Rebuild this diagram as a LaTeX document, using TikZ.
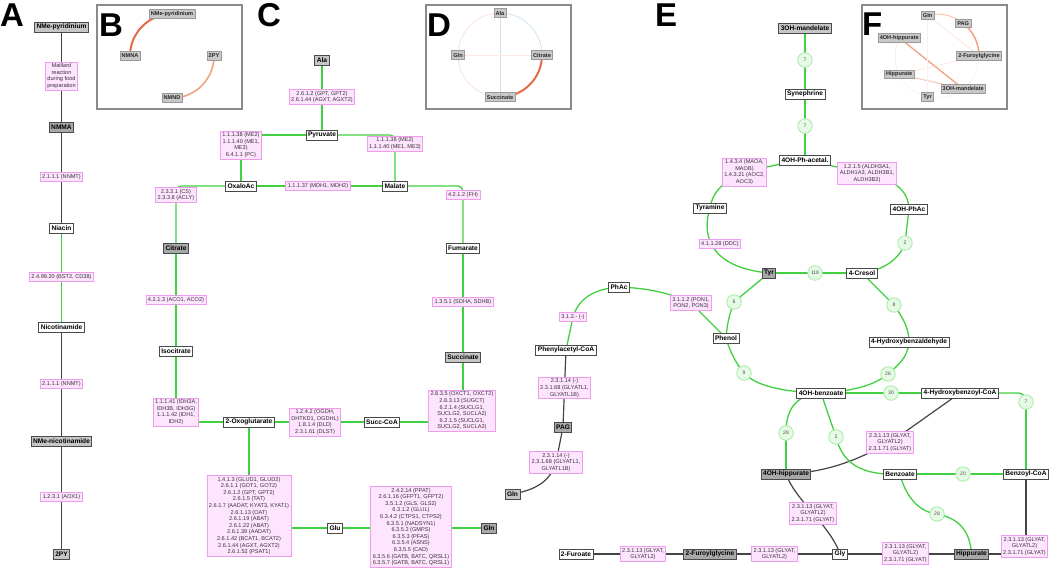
\documentclass[tikz,border=0pt]{standalone}
\usepackage{fontspec}
\setmainfont{Liberation Sans}
\usetikzlibrary{backgrounds}
\definecolor{lgreen}{HTML}{40D040}
\definecolor{dgrey}{HTML}{444444}
\definecolor{enzfill}{HTML}{FFE4FF}
\definecolor{enzdraw}{HTML}{EE9CEE}
\definecolor{metdraw}{HTML}{4A4A4A}
\definecolor{greyA}{HTML}{C6C6C6}
\definecolor{greyB}{HTML}{A8A8A8}
\definecolor{cfill}{HTML}{E6FBE6}
\definecolor{cdraw}{HTML}{A6EAA6}
\definecolor{boxgrey}{HTML}{8A8A8A}
\definecolor{ingrey}{HTML}{C8C8C8}
\definecolor{ingreyd}{HTML}{9A9A9A}
\definecolor{hot}{HTML}{E46A4A}
\definecolor{warm}{HTML}{F0A282}
\definecolor{pale}{HTML}{F6C6B0}
\definecolor{faint}{HTML}{FBE2D6}
\definecolor{lblue}{HTML}{CCE2F2}
\begin{document}
\begin{tikzpicture}[x=1pt,y=-1pt,
 met/.style={draw=metdraw, line width=0.9pt, fill=white, font=\fontsize{6.6}{7.5}\selectfont\bfseries, inner xsep=2pt, inner ysep=1.5pt, minimum height=10pt},
 metA/.style={met, fill=greyA},
 metB/.style={met, fill=greyB},
 enz/.style={draw=enzdraw, fill=enzfill, line width=0.8pt, font=\fontsize{5.6}{6.6}\selectfont, text=black!80, align=center, inner xsep=2pt, inner ysep=1.5pt},
 cnum/.style={circle, draw=cdraw, fill=cfill, line width=0.8pt, minimum size=14.5pt, inner sep=0pt, font=\fontsize{5}{6}\selectfont, text=black!70},
 gl/.style={draw=lgreen, line width=1.3pt},
 dl/.style={draw=dgrey, line width=1.2pt},
 inset/.style={draw=boxgrey, line width=1.3pt},
 ins/.style={fill=ingrey, draw=ingreyd, line width=0.6pt, font=\fontsize{5.6}{6}\selectfont\bfseries, inner xsep=1.8pt, inner ysep=1.2pt, minimum height=8.5pt, text=black!85},
 plabel/.style={font=\fontsize{33}{33}\selectfont\bfseries, inner sep=0pt, anchor=base west},
]
\useasboundingbox (0,0) rectangle (1050,568);

% inset frames
\draw[inset] (97,5) rectangle (242,109);
\draw[inset] (426,5) rectangle (571,109);
\draw[inset] (862,5) rectangle (1007,109);

% panel letters
\node[plabel] (LA) at (0,26) {A};
\node[plabel] (LB) at (99,36) {B};
\node[plabel] (LC) at (257,26) {C};
\node[plabel] (LD) at (427,36) {D};
\node[plabel] (LE) at (655,26) {E};
\node[plabel] (LF) at (862,35) {F};

% ---------- Panel A ----------
\node[metA] (a1) at (61.5,27) {NMe-pyridinium};
\node[enz] (a2) at (61.5,76) {Maillard\\reaction\\during food\\preparation};
\node[metB] (a3) at (61.5,127) {NMMA};
\node[enz] (a4) at (61.5,177) {2.1.1.1 (NNMT)};
\node[met] (a5) at (61.5,228) {Niacin};
\node[enz] (a6) at (61.5,277) {2.4.99.20 (BST2, CD38)};
\node[met] (a7) at (61.5,327) {Nicotinamide};
\node[enz] (a8) at (61.5,384) {2.1.1.1 (NNMT)};
\node[metA] (a9) at (61.5,441) {NMe-nicotinamide};
\node[enz] (a10) at (61.5,497) {1.2.3.1 (AOX1)};
\node[metA] (a11) at (61.5,554) {2PY};

% ---------- Panel B ----------
\node[ins] (Bpyr) at (172,14) {NMe-pyridinium};
\node[ins] (Bnmna) at (130,56) {NMNA};
\node[ins] (Bpy) at (214,56) {2PY};
\node[ins] (Bnmnd) at (172,98) {NMND};

% ---------- Panel C ----------
\node[metA] (ala) at (322,60) {Ala};
\node[enz] (e1) at (322,97) {2.6.1.2 (GPT, GPT2)\\2.6.1.44 (AGXT, AGXT2)};
\node[met] (pyr) at (322,135) {Pyruvate};
\node[enz] (e2) at (241,145) {1.1.1.38 (ME2)\\1.1.1.40 (ME1,\\ME3)\\6.4.1.1 (PC)};
\node[enz] (e3) at (395,143.5) {1.1.1.38 (ME2)\\1.1.1.40 (ME1, ME3)};
\node[met] (oxa) at (241,186) {OxaloAc};
\node[enz] (e4) at (318,186) {1.1.1.37 (MDH1, MDH2)};
\node[met] (mal) at (395,186) {Malate};
\node[enz] (e5) at (463,195) {4.2.1.2 (FH)};
\node[met] (fum) at (463,248) {Fumarate};
\node[enz] (e6) at (463,302) {1.3.5.1 (SDHA, SDHB)};
\node[metA] (suc) at (463,357) {Succinate};
\node[enz] (e7) at (462,411) {2.8.3.5 (OXCT1, OXCT2)\\2.8.3.13 (SUGCT)\\6.2.1.4 (SUCLG1,\\SUCLG2, SUCLA2)\\6.2.1.5 (SUCLG1,\\SUCLG2, SUCLA2)};
\node[met] (scoa) at (382,422) {Succ-CoA};
\node[enz] (e8) at (315,422) {1.2.4.2 (OGDH,\\DHTKD1, OGDHL)\\1.8.1.4 (DLD)\\2.3.1.61 (DLST)};
\node[met] (oxo) at (249,422) {2-Oxoglutarate};
\node[enz] (e9) at (176,195) {2.3.3.1 (CS)\\2.3.3.8 (ACLY)};
\node[metB] (cit) at (176,248) {Citrate};
\node[enz] (e10) at (176,300) {4.2.1.3 (ACO1, ACO2)};
\node[met] (iso) at (176,351) {Isocitrate};
\node[enz] (e11) at (176,412) {1.1.1.41 (IDH3A,\\IDH3B, IDH3G)\\1.1.1.42 (IDH1,\\IDH2)};
\node[enz] (e12) at (249,516) {1.4.1.3 (GLUD1, GLUD2)\\2.6.1.1 (GOT1, GOT2)\\2.6.1.2 (GPT, GPT2)\\2.6.1.5 (TAT)\\2.6.1.7 (AADAT, KYAT3, KYAT1)\\2.6.1.13 (OAT)\\2.6.1.19 (ABAT)\\2.6.1.22 (ABAT)\\2.6.1.39 (AADAT)\\2.6.1.42 (BCAT1, BCAT2)\\2.6.1.44 (AGXT, AGXT2)\\2.6.1.52 (PSAT1)};
\node[met] (glu) at (335,528) {Glu};
\node[enz] (e13) at (411,527) {2.4.2.14 (PPAT)\\2.6.1.16 (GFPT1, GFPT2)\\3.5.1.2 (GLS, GLS2)\\6.3.1.2 (GLUL)\\6.3.4.2 (CTPS1, CTPS2)\\6.3.5.1 (NADSYN1)\\6.3.5.2 (GMPS)\\6.3.5.3 (PFAS)\\6.3.5.4 (ASNS)\\6.3.5.5 (CAD)\\6.3.5.6 (GATB, BATC, QRSL1)\\6.3.5.7 (GATB, BATC, QRSL1)};
\node[metB] (glnc) at (489,528) {Gln};

% ---------- Panel D ----------
\node[ins] (Dala) at (500,13) {Ala};
\node[ins] (Dcit) at (542,55) {Citrate};
\node[ins] (Dsuc) at (500,97) {Succinate};
\node[ins] (Dgln) at (458,55) {Gln};

% ---------- Panel E ----------
\node[metA] (mand) at (805,28) {3OH-mandelate};
\node[cnum] (k1) at (805,60) {7};
\node[met] (syn) at (805,94) {Synephrine};
\node[cnum] (k2) at (805,126) {7};
\node[met] (acet) at (805,160) {4OH-Ph-acetal.};
\node[enz] (f1) at (744.5,172) {1.4.3.4 (MAOA,\\MAOB)\\1.4.3.21 (AOC2,\\AOC3)};
\node[enz] (f2) at (867,173.5) {1.2.1.5 (ALDH3A1,\\ALDH1A3, ALDH3B1,\\ALDH3B2)};
\node[met] (tyra) at (710,208) {Tyramine};
\node[enz] (f3) at (720,244) {4.1.1.28 (DDC)};
\node[met] (ohpa) at (909,209) {4OH-PhAc};
\node[cnum] (k3) at (905,243) {2};
\node[metB] (tyr) at (769,273) {Tyr};
\node[cnum] (k4) at (815,273) {118};
\node[met] (cres) at (862,273) {4-Cresol};
\node[cnum] (k5) at (894,305) {8};
\node[met] (hbal) at (909,342) {4-Hydroxybenzaldehyde};
\node[cnum] (k6) at (888,374) {26};
\node[met] (ohb) at (821,393) {4OH-benzoate};
\node[cnum] (k7) at (891,393) {30};
\node[met] (hbcoa) at (960,393) {4-Hydroxybenzoyl-CoA};
\node[cnum] (k8) at (1026,402) {7};
\node[cnum] (k9) at (734,302) {8};
\node[met] (phen) at (726,338) {Phenol};
\node[cnum] (k10) at (744,373) {9};
\node[enz] (f4) at (691,303) {3.1.1.2 (PON1,\\PON2, PON3)};
\node[met] (phac) at (619,287) {PhAc};
\node[enz] (f5) at (573,317) {3.1.2.- (-)};
\node[met] (paco) at (566,350) {Phenylacetyl-CoA};
\node[enz] (f6) at (564.5,388) {2.3.1.14 (-)\\2.3.1.68 (GLYATL1,\\GLYATL1B)};
\node[metB] (pag) at (563,427) {PAG};
\node[enz] (f7) at (556,462.5) {2.3.1.14 (-)\\2.3.1.68 (GLYATL1,\\GLYATL1B)};
\node[metA] (glne) at (512.5,494) {Gln};
\node[met] (fur) at (576,554) {2-Furoate};
\node[enz] (f8) at (643,554) {2.3.1.13 (GLYAT,\\GLYATL2)};
\node[metB] (fgly) at (710,554) {2-Furoylglycine};
\node[enz] (f9) at (774.5,554) {2.3.1.13 (GLYAT,\\GLYATL2)};
\node[met] (gly) at (840,554) {Gly};
\node[enz] (f10) at (905.5,553.5) {2.3.1.13 (GLYAT,\\GLYATL2)\\2.3.1.71 (GLYAT)};
\node[metB] (hip) at (971.5,554) {Hippurate};
\node[enz] (f11) at (1024.5,546.5) {2.3.1.13 (GLYAT,\\GLYATL2)\\2.3.1.71 (GLYAT)};
\node[met] (bcoa) at (1026,474) {Benzoyl-CoA};
\node[cnum] (k11) at (963,474) {20};
\node[met] (benz) at (900,474) {Benzoate};
\node[cnum] (k12) at (937,514) {28};
\node[metB] (ohh) at (786,474) {4OH-hippurate};
\node[cnum] (k13) at (786,433) {28};
\node[cnum] (k14) at (836,437) {2};
\node[enz] (f12) at (890,442.5) {2.3.1.13 (GLYAT,\\GLYATL2)\\2.3.1.71 (GLYAT)};
\node[enz] (f13) at (813,513.5) {2.3.1.13 (GLYAT,\\GLYATL2)\\2.3.1.71 (GLYAT)};

% ---------- Panel F ----------
\node[ins] (Ffur) at (979,56) {2-Furoylglycine};
\node[ins] (Fpag) at (963.2,23.2) {PAG};
\node[ins] (Fgln) at (927.6,15.1) {Gln};
\node[ins] (Fohh) at (899.2,37.8) {4OH-hippurate};
\node[ins] (Fhip) at (899.2,74.2) {Hippurate};
\node[ins] (Ftyr) at (927.6,96.9) {Tyr};
\node[ins] (Fman) at (963.2,88.8) {3OH-mandelate};

% ================= connectors =================
\begin{scope}[on background layer]
% A
\draw[dl] (a1.center) -- (a5.center);
\draw[gl] (a5.center) -- (a7.center);
\draw[dl] (a7.center) -- (a11.center);
% B
\draw[hot, line width=2pt] (Bnmna.center) arc[start angle=180, end angle=270, radius=42];
\draw[warm, line width=1.6pt] (Bpy.center) arc[start angle=0, end angle=90, radius=42];
% C
\draw[gl] (ala.center) -- (pyr.center);
\draw[gl] (pyr.center) -| (oxa.center);
\draw[gl, rounded corners=5pt] (pyr.center) -| (mal.center);
\draw[gl] (oxa.center) -- (mal.center);
\draw[gl, rounded corners=5pt] (mal.center) -| (fum.center);
\draw[gl] (fum.center) -- (suc.center);
\draw[gl] (suc.center) |- (scoa.center);
\draw[gl] (scoa.center) -- (oxo.center);
\draw[gl, rounded corners=5pt] (oxa.center) -| (cit.center);
\draw[gl] (cit.center) |- (oxo.center);
\draw[gl] (oxo.center) |- (glu.center);
\draw[gl] (glu.center) -- (glnc.center);
% D
\draw[lblue, line width=0.8pt] (Dala.center) arc[start angle=270, end angle=360, radius=42];
\draw[hot, line width=2pt] (Dcit.center) arc[start angle=0, end angle=90, radius=42];
\draw[faint, line width=0.8pt] (Dsuc.center) arc[start angle=90, end angle=180, radius=42];
\draw[faint, line width=0.8pt] (Dgln.center) arc[start angle=180, end angle=270, radius=42];
\draw[lblue, line width=0.8pt] (Dala.center) -- (Dsuc.center);
\draw[faint!70, line width=0.6pt] (Dgln.center) -- (Dcit.center);
% E
\draw[gl] (mand.center) -- (acet.center);
\draw[gl] (acet.center) .. controls (785,163) and (770,166) .. (f1.center);
\draw[gl] (f1.center) .. controls (725,180) and (712,192) .. (tyra.center);
\draw[gl] (tyra.center) .. controls (700,240) and (715,268) .. (tyr.center);
\draw[gl] (acet.center) -- (f2.center);
\draw[gl] (f2.center) .. controls (895,180) and (908,190) .. (ohpa.center);
\draw[gl] (ohpa.center) -- (k3.center);
\draw[gl] (k3.center) .. controls (900,258) and (885,270) .. (cres.center);
\draw[gl] (tyr.center) -- (cres.center);
\draw[gl] (cres.center) -- (k5.center);
\draw[gl] (k5.center) .. controls (903,318) and (909,328) .. (hbal.center);
\draw[gl] (hbal.center) .. controls (908,358) and (897,366) .. (k6.center);
\draw[gl] (k6.center) .. controls (872,387) and (850,391) .. (ohb.center);
\draw[gl] (tyr.center) -- (k9.center);
\draw[gl] (k9.center) .. controls (729,315) and (727,325) .. (phen.center);
\draw[gl] (phen.center) .. controls (730,352) and (737,365) .. (k10.center);
\draw[gl] (k10.center) .. controls (755,385) and (780,392) .. (ohb.center);
\draw[gl] (phac.center) .. controls (645,288) and (668,292) .. (f4.center);
\draw[gl] (f4.center) -- (phen.center);
\draw[gl] (phac.center) .. controls (592,289) and (578,300) .. (f5.center);
\draw[gl] (f5.center) -- (paco.center);
\draw[dl] (paco.center) -- (f6.center) -- (pag.center) -- (f7.center);
\draw[dl] (f7.center) .. controls (550,482) and (535,490) .. (glne.center);
\draw[dl] (fur.center) -- (hip.center);
\draw[dl] (hip.center) -| (bcoa.center);
\draw[gl] (ohb.center) -- (hbcoa.center);
\draw[gl, rounded corners=8pt] (hbcoa.center) -| (k8.center);
\draw[gl] (k8.center) -- (bcoa.center);
\draw[dl] (hbcoa.center) -- (f12.center);
\draw[dl] (f12.center) .. controls (865,455) and (835,472) .. (ohh.center);
\draw[gl] (ohb.center) .. controls (795,395) and (786,410) .. (k13.center);
\draw[gl] (k13.center) -- (ohh.center);
\draw[gl] (ohb.center) -- (k14.center);
\draw[gl] (k14.center) .. controls (842,462) and (860,476) .. (benz.center);
\draw[gl] (benz.center) -- (bcoa.center);
\draw[gl] (benz.center) .. controls (905,495) and (918,512) .. (k12.center);
\draw[gl] (k12.center) .. controls (958,518) and (970,530) .. (hip.center);
\draw[dl] (ohh.center) .. controls (795,500) and (830,525) .. (gly.center);
% F
\draw[warm, line width=1.5pt] (Ffur.center) arc[start angle=0, end angle=-51.4, radius=42];
\draw[pale, line width=1pt] (Fpag.center) arc[start angle=-51.4, end angle=-102.9, radius=42];
\draw[faint, line width=0.6pt] (Fohh.center) arc[start angle=-154.3, end angle=-205.7, radius=42];
\draw[faint!60, line width=0.5pt] (Fhip.center) arc[start angle=-205.7, end angle=-257.1, radius=42];
\draw[faint!60, line width=0.5pt] (Ftyr.center) arc[start angle=-257.1, end angle=-308.6, radius=42];
\draw[faint!60, line width=0.5pt] (Fman.center) arc[start angle=-308.6, end angle=-360, radius=42];
\draw[warm, line width=1.3pt] (Fohh.center) -- (Fman.center);
\draw[pale, line width=1pt] (Fhip.center) -- (Fman.center);
\draw[faint, line width=0.7pt] (Fgln.center) -- (Ffur.center);
\draw[faint, line width=0.6pt] (Fhip.center) -- (Ffur.center);
\draw[faint!50, line width=0.5pt] (Fgln.center) -- (Ftyr.center);
\end{scope}
\end{tikzpicture}
\end{document}
